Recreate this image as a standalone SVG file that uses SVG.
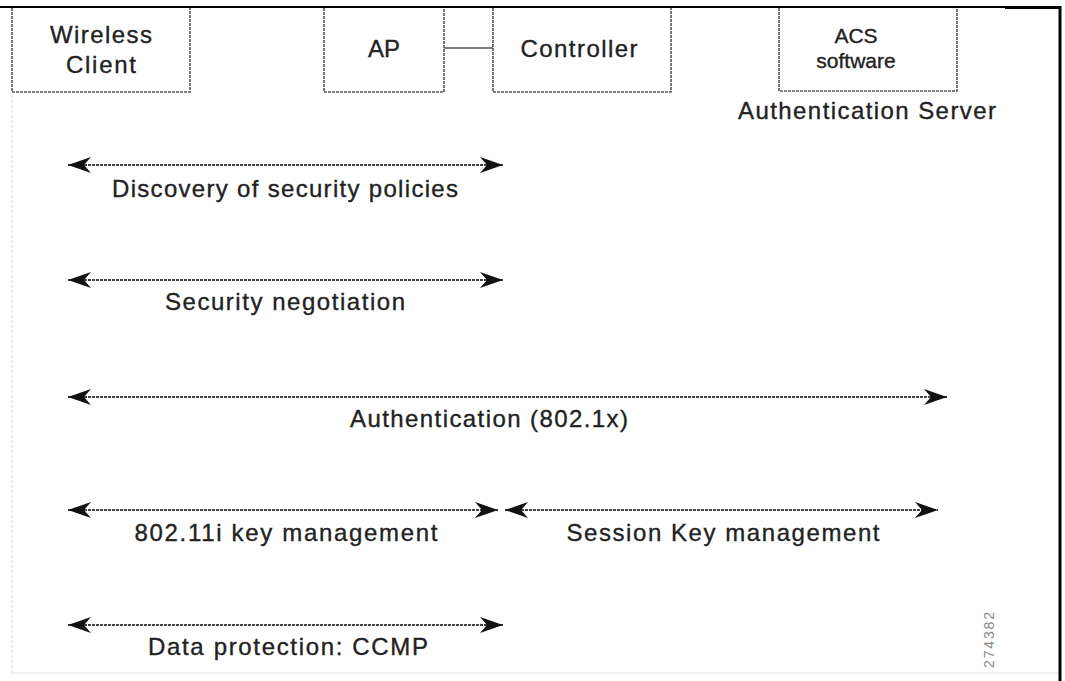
<svg xmlns="http://www.w3.org/2000/svg" width="1065" height="681" viewBox="0 0 1065 681">
  <style>
    .frame { fill: none; stroke: #000; }
    .box { fill: #fff; stroke: #555; stroke-width: 1.6; stroke-dasharray: 3 1; }
    .lbl { font-family: "Liberation Sans", Arial, sans-serif; font-size: 24px; fill: #222; stroke: #222; stroke-width: 0.35; text-anchor: middle; }
    .sm { font-size: 21px; }
    .flow { fill: none; stroke: #444; stroke-width: 1.8; stroke-dasharray: 3 1; marker-start: url(#head); marker-end: url(#head); }
    .tag { font-family: "Liberation Sans", Arial, sans-serif; font-size: 14px; fill: #888; }
  </style>
  <defs>
    <marker id="head" viewBox="0 -9 24 18" refX="23" refY="0" markerWidth="24" markerHeight="18" markerUnits="userSpaceOnUse" orient="auto-start-reverse">
      <path d="M0,-8 L23,0 L0,8 L7,0 Z" fill="#111"/>
    </marker>
  </defs>

  <rect width="1065" height="681" fill="#fff"/>

  <!-- page frame -->
  <g id="frame">
    <line class="frame" x1="0" y1="7" x2="1006" y2="7" stroke-width="2"/>
    <line class="frame" x1="1005" y1="7.5" x2="1061" y2="7.5" stroke-width="3"/>
    <line class="frame" x1="1060" y1="6" x2="1060" y2="681" stroke-width="3"/>
    <line x1="12" y1="95" x2="12" y2="673" stroke="#e4e4e4" stroke-width="1.5" stroke-dasharray="3 2"/>
    <line x1="12" y1="673" x2="1058" y2="673" stroke="#ececec" stroke-width="1.5"/>
  </g>

  <!-- AP–Controller link and the exchange arrows -->
  <g id="connectors">
    <line x1="444" y1="48" x2="494" y2="48" stroke="#555" stroke-width="1.6"/>
    <path class="flow" d="M68,165 H503"/>
    <path class="flow" d="M68,280 H503"/>
    <path class="flow" d="M68,397 H947"/>
    <path class="flow" d="M68,510 H498"/>
    <path class="flow" d="M505,510 H938"/>
    <path class="flow" d="M68,625 H503"/>
  </g>

  <g id="wireless-client">
    <path class="box" d="M12,8 V92 H190 V8"/>
    <text class="lbl" x="101" y="43" textLength="102">Wireless</text>
    <text class="lbl" x="101" y="73" textLength="70">Client</text>
  </g>

  <g id="ap">
    <path class="box" d="M324,8 V92 H444 V8"/>
    <text class="lbl" x="384" y="57">AP</text>
  </g>

  <g id="controller">
    <path class="box" d="M493,8 V92 H671 V8"/>
    <text class="lbl" x="579" y="57" textLength="117">Controller</text>
  </g>

  <g id="acs">
    <path class="box" d="M779,8 V91 H957 V8"/>
    <text class="lbl sm" x="856" y="43">ACS</text>
    <text class="lbl sm" x="856" y="68">software</text>
    <text class="lbl" x="867" y="119" textLength="258">Authentication Server</text>
  </g>

  <g id="labels">
    <text class="lbl" x="285" y="197" textLength="346">Discovery of security policies</text>
    <text class="lbl" x="285" y="310" textLength="240">Security negotiation</text>
    <text class="lbl" x="489" y="427" textLength="278">Authentication (802.1x)</text>
    <text class="lbl" x="286" y="541" textLength="303">802.11i key management</text>
    <text class="lbl" x="723" y="541" textLength="313">Session Key management</text>
    <text class="lbl" x="288" y="655" textLength="280">Data protection: CCMP</text>
  </g>

  <text class="tag" transform="translate(994,668) rotate(-90)" textLength="56">274382</text>
</svg>
